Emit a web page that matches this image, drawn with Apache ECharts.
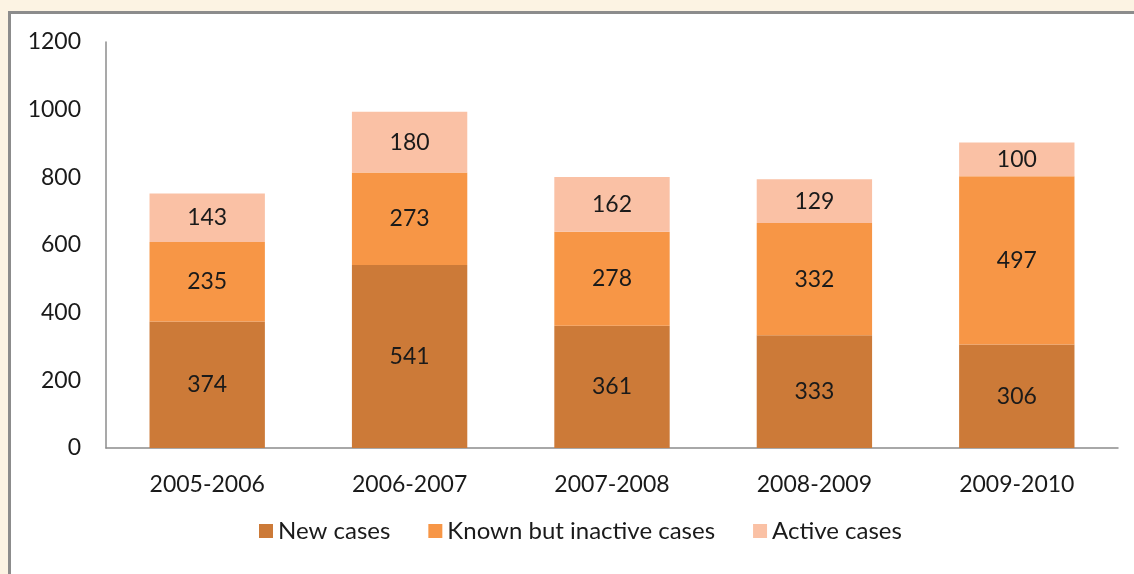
<!DOCTYPE html>
<html>
<head>
<meta charset="utf-8">
<script src="https://cdn.jsdelivr.net/npm/echarts@6/dist/echarts.min.js"></script>
<style>
  html, body { margin: 0; padding: 0; width: 1134px; height: 574px; overflow: hidden; background: #fcf3e3; }
  #frame { position: absolute; left: 8px; top: 11px; width: 1126px; height: 563px; background: #ffffff;
           border-left: 3px solid #8c8c8c; border-top: 3px solid #8c8c8c; box-sizing: border-box; }
  #chart { position: absolute; left: 0; top: 0; width: 1134px; height: 574px; }
</style>
</head>
<body>
<div id="frame"></div>
<div id="chart"></div>
<script>
const categories = ['2005-2006', '2006-2007', '2007-2008', '2008-2009', '2009-2010'];
const newCases = [374, 541, 361, 333, 306];
const knownInactive = [235, 273, 278, 332, 497];
const activeCases = [143, 180, 162, 129, 100];
const seriesNames = ['New cases', 'Known but inactive cases', 'Active cases'];
const colors = ['#cc7a38', '#f79646', '#fac1a5'];

const chart = echarts.init(document.getElementById('chart'), null, { renderer: 'canvas' });
const font = 'Lato, "Open Sans", sans-serif';
const mk = (name, data, color) => ({
  name, type: 'bar', stack: 'total', data, barWidth: '57%',
  itemStyle: { color },
  label: { show: true, position: 'inside', color: '#1a1a1a', fontSize: 23, fontFamily: font },
  emphasis: { disabled: true }
});
chart.setOption({
  backgroundColor: 'transparent',
  animation: false,
  textStyle: { fontFamily: font },
  grid: { left: 106, top: 42, right: 16, bottom: 126, containLabel: false },
  legend: {
    bottom: 26, left: 254, itemWidth: 14, itemHeight: 14, itemGap: 38, icon: 'rect',
    textStyle: { fontSize: 24, color: '#1a1a1a', fontFamily: font }
  },
  xAxis: {
    type: 'category', data: categories,
    axisLine: { lineStyle: { color: '#8c8c8c', width: 1.5 } },
    axisTick: { show: false },
    axisLabel: { fontSize: 23, color: '#1a1a1a', margin: 25, fontFamily: font }
  },
  yAxis: {
    type: 'value', min: 0, max: 1200, interval: 200,
    axisLine: { show: true, lineStyle: { color: '#8c8c8c', width: 1.5 } },
    axisTick: { show: false },
    splitLine: { show: false },
    axisLabel: { fontSize: 23, color: '#1a1a1a', margin: 25, fontFamily: font, formatter: v => String(v) }
  },
  series: [
    mk(seriesNames[0], newCases, colors[0]),
    mk(seriesNames[1], knownInactive, colors[1]),
    mk(seriesNames[2], activeCases, colors[2])
  ]
});
</script>
</body>
</html>
